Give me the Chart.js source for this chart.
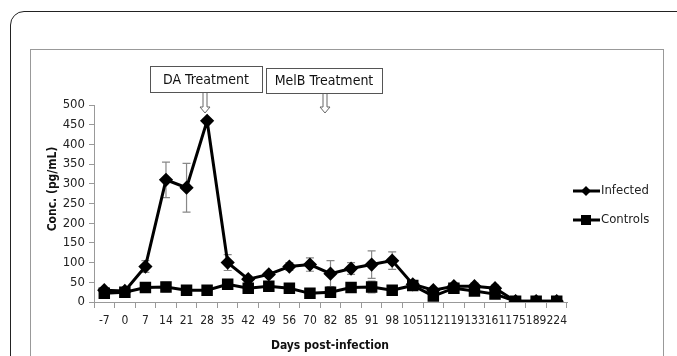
<!DOCTYPE html>
<html>
<head>
<meta charset="utf-8">
<script src="https://cdn.jsdelivr.net/npm/chart.js@4.4.0/dist/chart.umd.min.js"></script>
<style>
  body { margin: 0; background: #fff; overflow: hidden; }
  #outer { position: absolute; left: 10px; top: 11px; width: 700px; height: 400px; border: 1px solid #222; border-radius: 14px; }
  #inner { position: absolute; left: 30px; top: 49px; width: 632px; height: 330px; border: 1px solid #999; }
  #wrap { position: absolute; left: 0; top: 0; width: 677px; height: 356px; }
</style>
</head>
<body>
<div id="outer"></div>
<div id="inner"></div>
<div id="wrap"><canvas id="myChart" width="677" height="356"></canvas></div>
<script>
var days = ['-7', '0', '7', '14', '21', '28', '35', '42', '49', '56', '70', '82', '85', '91', '98', '105', '112', '119', '133', '161', '175', '189', '224'];
var infected = [30, 28, 90, 310, 290, 460, 100, 58, 70, 90, 95, 72, 85, 95, 105, 45, 30, 40, 40, 35, 2, 2, 2];
var infectedErr = [5, 5, 15, 45, 62, 5, 20, 8, 5, 10, 17, 33, 15, 35, 22, 8, 5, 5, 8, 8, 0, 0, 0];
var controls = [22, 25, 37, 38, 30, 30, 45, 35, 40, 35, 22, 25, 37, 38, 30, 42, 15, 35, 28, 20, 2, 2, 2];
var controlsErr = [5, 5, 5, 12, 5, 5, 5, 5, 5, 5, 5, 5, 5, 15, 5, 5, 5, 5, 5, 5, 0, 0, 0];
var yTicks = [0, 50, 100, 150, 200, 250, 300, 350, 400, 450, 500];

const ctx = document.getElementById('myChart');
const fontName = '"DejaVu Sans Condensed", "Liberation Sans Narrow", "Open Sans", sans-serif';

// error bars, treatment boxes, arrows, legend and axis titles
const extras = {
  id: 'extras',
  beforeDatasetsDraw: function (chart) {
    const c = chart.ctx;
    const x = chart.scales.x, y = chart.scales.y;
    c.save();
    c.strokeStyle = '#888';
    c.lineWidth = 1.2;
    [[infected, infectedErr], [controls, controlsErr]].forEach(function (s) {
      for (let i = 0; i < s[0].length; i++) {
        if (!s[1][i]) continue;
        const px = x.getPixelForValue(i);
        const top = y.getPixelForValue(s[0][i] + s[1][i]);
        const bot = y.getPixelForValue(Math.max(0, s[0][i] - s[1][i]));
        c.beginPath();
        c.moveTo(px, top); c.lineTo(px, bot);
        c.moveTo(px - 4, top); c.lineTo(px + 4, top);
        c.moveTo(px - 4, bot); c.lineTo(px + 4, bot);
        c.stroke();
      }
    });
    c.restore();
  },
  afterDraw: function (chart) {
    const c = chart.ctx;
    c.save();
    // boxes
    c.strokeStyle = '#555';
    c.lineWidth = 1;
    c.strokeRect(150.5, 66.5, 112, 26);
    c.strokeRect(266.5, 68.5, 116, 25);
    c.fillStyle = '#111';
    c.font = '14px ' + fontName;
    c.textAlign = 'center';
    c.textBaseline = 'middle';
    c.fillText('DA Treatment', 206, 80);
    c.fillText('MelB Treatment', 324, 81);
    // hollow arrows
    function arrow(ax, y0, y1) {
      c.beginPath();
      c.moveTo(ax - 2, y0); c.lineTo(ax - 2, y1 - 6);
      c.lineTo(ax - 5, y1 - 6); c.lineTo(ax, y1);
      c.lineTo(ax + 5, y1 - 6); c.lineTo(ax + 2, y1 - 6);
      c.lineTo(ax + 2, y0);
      c.fillStyle = '#fff';
      c.fill();
      c.strokeStyle = '#666';
      c.stroke();
    }
    arrow(205, 93, 113);
    arrow(325, 94, 113);
    // legend
    c.strokeStyle = '#000';
    c.fillStyle = '#000';
    c.lineWidth = 3;
    c.beginPath(); c.moveTo(573, 191); c.lineTo(600, 191); c.stroke();
    c.beginPath(); c.moveTo(586, 186); c.lineTo(591, 191); c.lineTo(586, 196); c.lineTo(581, 191); c.closePath(); c.fill();
    c.beginPath(); c.moveTo(573, 220); c.lineTo(600, 220); c.stroke();
    c.fillRect(581, 215, 10, 10);
    c.font = '13px ' + fontName;
    c.textAlign = 'left';
    c.fillStyle = '#222';
    c.fillText('Infected', 601, 191);
    c.fillText('Controls', 601, 220);
    // axis titles
    c.font = 'bold 12px ' + fontName;
    c.textAlign = 'center';
    c.fillStyle = '#111';
    c.fillText('Days post-infection', 330, 346);
    c.translate(53, 189);
    c.rotate(-Math.PI / 2);
    c.fillText('Conc. (pg/mL)', 0, 0);
    c.restore();
  }
};

new Chart(ctx, {
  type: 'line',
  data: {
    labels: days,
    datasets: [
      {
        label: 'Infected',
        data: infected,
        borderColor: '#000',
        backgroundColor: '#000',
        borderWidth: 3,
        pointStyle: 'rectRot',
        pointRadius: 5,
        tension: 0,
      },
      {
        label: 'Controls',
        data: controls,
        borderColor: '#000',
        backgroundColor: '#000',
        borderWidth: 3,
        pointStyle: 'rect',
        pointRadius: 6,
        tension: 0,
      },
    ],
  },
  options: {
    responsive: false,
    animation: false,
    layout: { padding: { left: 60, right: 110, top: 105, bottom: 0 } },
    plugins: { legend: { display: false }, tooltip: { enabled: false } },
    scales: {
      x: {
        offset: true,
        grid: { display: true, drawOnChartArea: false, offset: true, tickLength: 6, color: '#999' },
        border: { color: '#999' },
        ticks: { autoSkip: false, maxRotation: 0, padding: 6, color: '#222', font: { family: fontName, size: 12 } },
        afterFit: function (s) { s.height = 54; },
      },
      y: {
        min: 0,
        max: 500,
        afterBuildTicks: function (s) { s.ticks = yTicks.map(function (v) { return { value: v }; }); },
        grid: { display: true, drawOnChartArea: false, tickLength: 5, color: '#999' },
        border: { color: '#999' },
        ticks: { padding: 4, color: '#222', font: { family: fontName, size: 13 } },
        afterFit: function (s) { s.width = 34; },
      },
    },
  },
  plugins: [extras],
});
</script>
</body>
</html>
